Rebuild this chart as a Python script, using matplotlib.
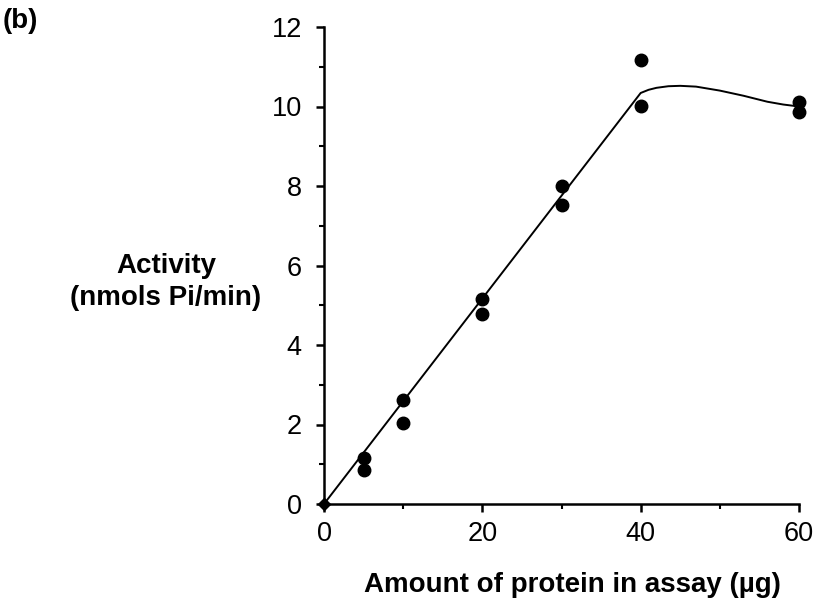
import matplotlib
matplotlib.use("Agg")
import matplotlib.pyplot as plt
from matplotlib.ticker import MultipleLocator

plt.rcParams['font.family'] = ['Liberation Sans', 'DejaVu Sans']

# measured points (protein in ug, activity in nmol Pi/min)
protein = [5, 5, 10, 10, 20, 20, 30, 30, 40, 40, 60, 60]
activity = [1.16, 0.86, 2.62, 2.04, 5.16, 4.78, 8.0, 7.52, 11.17, 10.01, 10.11, 9.86]

# hand drawn fit line
fit_x = [0, 40, 41, 42, 43.5, 45, 47, 50, 53, 56, 58, 60]
fit_y = [0, 10.34, 10.42, 10.47, 10.51, 10.52, 10.5, 10.4, 10.27, 10.12, 10.05, 10.0]

fig = plt.figure(figsize=(8.13, 6.08), dpi=100)
ax = fig.add_axes([324/813, 1 - 504/608, (799 - 324)/813, (504 - 27)/608])

ax.plot(fit_x, fit_y, color="black", lw=1.4, clip_on=False)
ax.plot(protein, activity, "o", color="black", ms=9, clip_on=False)
ax.plot([0], [0], "D", color="black", ms=6, clip_on=False)

ax.set_xlim(0, 60)
ax.set_ylim(0, 12)
ax.xaxis.set_major_locator(MultipleLocator(20))
ax.xaxis.set_minor_locator(MultipleLocator(10))
ax.yaxis.set_major_locator(MultipleLocator(2))
ax.yaxis.set_minor_locator(MultipleLocator(1))

for s in ["top", "right"]:
    ax.spines[s].set_visible(False)
for s in ["left", "bottom"]:
    ax.spines[s].set_linewidth(1.8)

ax.tick_params(which="major", length=6, width=1.8, labelsize=19.5)
ax.tick_params(which="minor", length=3.5, width=1.5)
ax.tick_params(axis="y", which="major", pad=10)
ax.tick_params(axis="x", which="major", pad=6)

fig.text(572/813, 1 - 585/608, "Amount of protein in assay (µg)",
         ha="center", va="center", fontsize=20, fontweight="bold")
fig.text(166/813, 1 - 282/608, "Activity\n(nmols Pi/min)",
         ha="center", va="center", fontsize=20, fontweight="bold",
         linespacing=1.3)
fig.text(3/813, 1 - 21/608, "(b)", ha="left", va="center",
         fontsize=20, fontweight="bold")

fig.savefig("out.png", dpi=100)
